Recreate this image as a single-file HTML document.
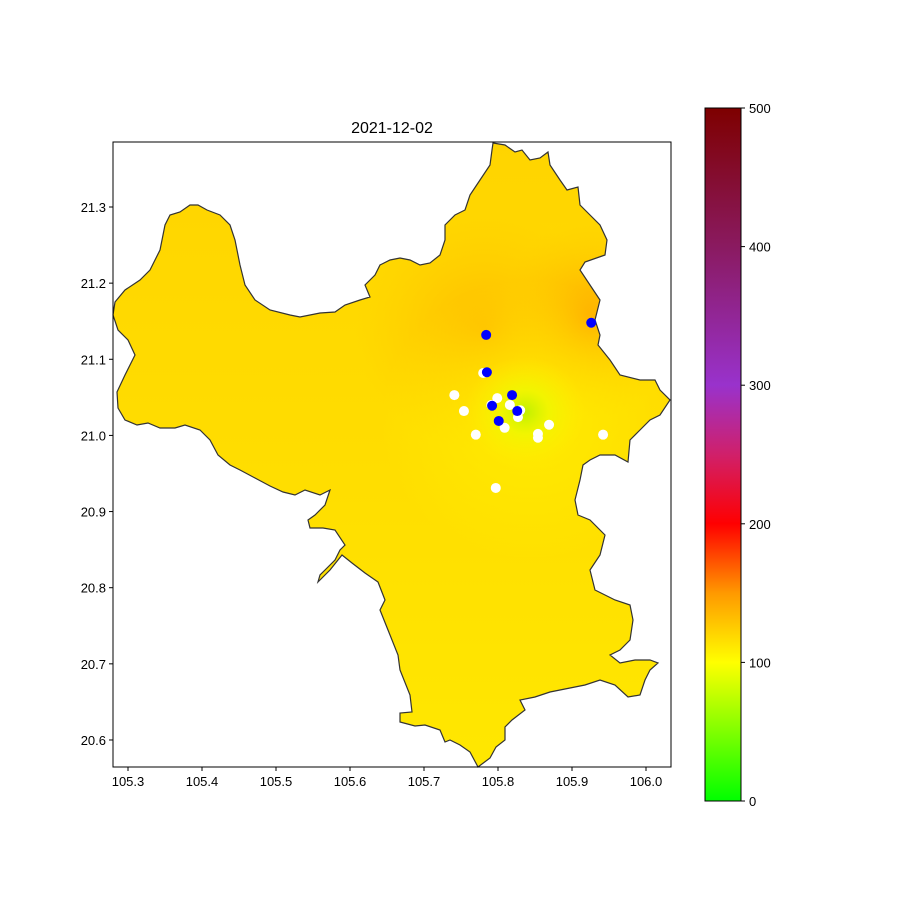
<!DOCTYPE html>
<html><head><meta charset="utf-8">
<style>
body{margin:0;background:#fff;font-family:"Liberation Sans",sans-serif;}
svg text{font-family:"Liberation Sans","DejaVu Sans",sans-serif;font-size:13px;fill:#000;}
</style></head>
<body>
<svg id="chart" width="900" height="900" viewBox="0 0 900 900">
<defs>
  <clipPath id="regionClip"><path id="clipPath0" d=""/></clipPath>
  <linearGradient id="baseGrad" x1="0" y1="0" x2="0" y2="1">
    <stop offset="0" stop-color="#ffd400"/>
    <stop offset="0.45" stop-color="#ffdc00"/>
    <stop offset="1" stop-color="#ffe800"/>
  </linearGradient>
  <radialGradient id="hot1"><stop offset="0" stop-color="#ffb000" stop-opacity="0.75"/><stop offset="1" stop-color="#ffc800" stop-opacity="0"/></radialGradient>
  <radialGradient id="hot2"><stop offset="0" stop-color="#ffa000" stop-opacity="0.8"/><stop offset="1" stop-color="#ffc800" stop-opacity="0"/></radialGradient>
  <radialGradient id="cool1"><stop offset="0" stop-color="#c0f000" stop-opacity="1"/><stop offset="0.4" stop-color="#eef800" stop-opacity="0.8"/><stop offset="1" stop-color="#ffef00" stop-opacity="0"/></radialGradient>
  <radialGradient id="cool2"><stop offset="0" stop-color="#fff000" stop-opacity="0.8"/><stop offset="1" stop-color="#fff000" stop-opacity="0"/></radialGradient>
  <linearGradient id="cbGrad" x1="0" y1="1" x2="0" y2="0">
    <stop offset="0" stop-color="#00ff00"/>
    <stop offset="0.2" stop-color="#ffff00"/>
    <stop offset="0.3" stop-color="#ff9900"/>
    <stop offset="0.4" stop-color="#ff0000"/>
    <stop offset="0.5" stop-color="#d0206a"/>
    <stop offset="0.6" stop-color="#9932cc"/>
    <stop offset="0.8" stop-color="#8a1a60"/>
    <stop offset="1" stop-color="#7e0000"/>
  </linearGradient>
</defs>
<text x="392" y="133" text-anchor="middle" style="font-size:16px">2021-12-02</text>
<g id="mapLayer"></g>
<rect x="113" y="142" width="558" height="625" fill="none" stroke="#000" stroke-width="1"/>
<g id="axes"></g>
<rect x="705" y="108" width="36" height="693" fill="url(#cbGrad)" stroke="#000" stroke-width="1"/>
<g id="cbAxis"></g>
</svg>
<script>
const xTicks=[105.3,105.4,105.5,105.6,105.7,105.8,105.9,106.0];
const yTicks=[20.6,20.7,20.8,20.9,21.0,21.1,21.2,21.3];
const cbTicks=[0,100,200,300,400,500];
const whiteLon=[105.780,105.741,105.754,105.770,105.799,105.791,105.809,105.827,105.830,105.854,105.854,105.869,105.942,105.797,105.816];
const whiteLat=[21.082,21.053,21.032,21.001,21.049,21.040,21.010,21.024,21.033,21.002,20.997,21.014,21.001,20.931,21.040];
const blueLon=[105.784,105.785,105.926,105.819,105.792,105.826,105.801];
const blueLat=[21.132,21.083,21.148,21.053,21.039,21.032,21.019];
const boundary=[[493,143],[505,145],[515,152],[522,150],[530,160],[540,158],[548,152],[550,165],[560,180],[567,190],[578,187],[580,205],[590,215],[600,225],[607,240],[605,255],[585,262],[580,270],[590,285],[600,300],[595,320],[600,335],[598,345],[610,360],[620,375],[640,380],[655,380],[660,390],[670,400],[660,415],[650,420],[640,430],[630,440],[628,462],[615,455],[600,455],[590,460],[583,465],[580,480],[575,500],[578,515],[590,520],[605,535],[600,555],[590,570],[595,590],[615,600],[630,605],[633,620],[630,640],[620,650],[610,655],[620,663],[635,660],[650,660],[658,663],[650,670],[645,680],[640,695],[628,697],[615,685],[600,680],[585,685],[570,688],[550,692],[535,697],[520,700],[525,710],[512,720],[505,727],[505,740],[496,747],[490,758],[478,767],[470,752],[460,745],[450,740],[445,742],[440,730],[425,725],[415,726],[400,722],[400,713],[412,712],[410,695],[400,670],[398,655],[388,630],[380,610],[385,600],[378,582],[365,573],[352,563],[342,555],[330,570],[318,582],[320,575],[325,570],[335,560],[340,550],[345,545],[335,530],[323,528],[310,528],[308,520],[315,515],[325,505],[330,490],[320,495],[305,490],[295,495],[283,492],[270,486],[255,478],[240,470],[230,465],[218,455],[210,440],[200,430],[185,425],[175,428],[160,428],[148,423],[137,425],[125,420],[118,408],[117,392],[125,375],[130,365],[135,355],[128,340],[118,330],[113,315],[115,302],[125,290],[140,280],[150,270],[160,250],[165,225],[170,215],[180,212],[190,205],[198,205],[207,210],[220,215],[230,225],[235,240],[240,265],[245,285],[255,300],[270,310],[290,315],[300,317],[320,313],[335,312],[345,305],[360,300],[370,297],[365,285],[375,275],[380,265],[390,260],[400,258],[410,260],[420,265],[430,263],[440,255],[445,240],[445,225],[455,215],[465,210],[470,195],[480,180],[490,165],[492,150]];

const NS='http://www.w3.org/2000/svg';
const xS=v=>128+(v-105.3)*740;
const yS=v=>207-(v-21.3)*761.4;
const cbS=v=>801-v/500*693;
function mk(tag,attrs,parent){const e=document.createElementNS(NS,tag);for(const k in attrs)e.setAttribute(k,attrs[k]);parent.appendChild(e);return e;}

const d='M'+boundary.map(p=>p.join(',')).join('L')+'Z';
document.getElementById('clipPath0').setAttribute('d',d);
const map=document.getElementById('mapLayer');
const g=mk('g',{'clip-path':'url(#regionClip)'},map);
mk('rect',{x:100,y:130,width:600,height:650,fill:'url(#baseGrad)'},g);
mk('ellipse',{cx:485,cy:330,rx:130,ry:120,fill:'url(#hot1)'},g);
mk('ellipse',{cx:590,cy:318,rx:90,ry:100,fill:'url(#hot2)'},g);
mk('ellipse',{cx:530,cy:420,rx:150,ry:140,fill:'url(#cool2)'},g);
mk('ellipse',{cx:525,cy:412,rx:60,ry:55,fill:'url(#cool1)'},g);
const outline=mk('path',{d:d,fill:'none',stroke:'#333',"stroke-width":1.2},map);



whiteLon.forEach((lo,i)=>{const c=mk('circle',{cx:xS(lo),cy:yS(whiteLat[i]),r:5,fill:'#fff'},map);

});
blueLon.forEach((lo,i)=>{const c=mk('circle',{cx:xS(lo),cy:yS(blueLat[i]),r:5,fill:'#0000ff'},map);

});

const ax=document.getElementById('axes');
xTicks.forEach(v=>{const x=xS(v);mk('line',{x1:x,x2:x,y1:767,y2:771,stroke:'#000'},ax);
const t=mk('text',{x:x,y:786,'text-anchor':'middle'},ax);t.textContent=v.toFixed(1);

});
yTicks.forEach(v=>{const y=yS(v);mk('line',{x1:109,x2:113,y1:y,y2:y,stroke:'#000'},ax);
const t=mk('text',{x:106,y:y+5,'text-anchor':'end'},ax);t.textContent=v.toFixed(1);

});
const cb=document.getElementById('cbAxis');
cbTicks.forEach(v=>{const y=cbS(v);mk('line',{x1:741,x2:745,y1:y,y2:y,stroke:'#000'},cb);
const t=mk('text',{x:749,y:y+5},cb);t.textContent=v;

});
</script>
</body></html>
